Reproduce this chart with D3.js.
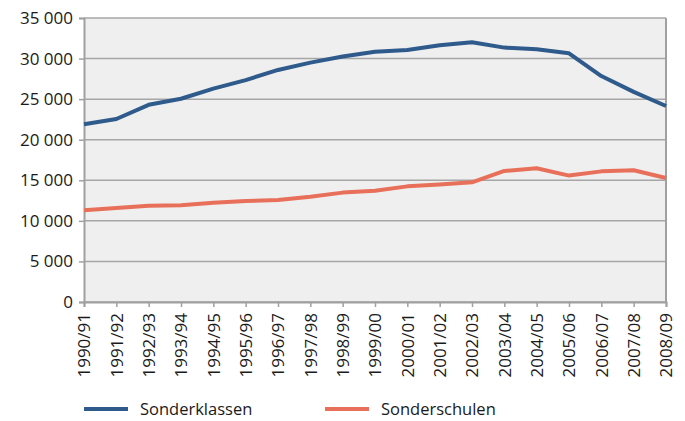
<!DOCTYPE html>
<html>
<head>
<meta charset="utf-8">
<script src="https://cdn.jsdelivr.net/npm/d3@7"></script>
<style>
  body { margin: 0; background: #fff; }
  text { font-family: "Open Sans", sans-serif; fill: #1a1a1a; }
</style>
</head>
<body>
<script>
// school years
var years = ["1990/91","1991/92","1992/93","1993/94","1994/95","1995/96","1996/97","1997/98","1998/99","1999/00",
             "2000/01","2001/02","2002/03","2003/04","2004/05","2005/06","2006/07","2007/08","2008/09"];
var sonderklassen = [21900,22550,24300,25050,26300,27350,28600,29500,30250,30850,
                     31050,31650,32000,31350,31150,30650,27850,25900,24150];
var sonderschulen = [11300,11580,11850,11920,12230,12450,12580,12980,13480,13700,
                     14250,14480,14750,16150,16480,15580,16100,16230,15280];
var yTicks = [0,5000,10000,15000,20000,25000,30000,35000];

var w = 685, h = 421;
var mLeft = 84, mRight = 666, mTop = 18, mBottom = 302;

var svg = d3.select("body").append("svg").attr("width", w).attr("height", h);

var x = d3.scalePoint().domain(years).range([mLeft, mRight]);
var y = d3.scaleLinear().domain([0, 35000]).range([mBottom, mTop]);

// plot background
svg.append("rect")
  .attr("x", mLeft).attr("y", mTop)
  .attr("width", mRight - mLeft).attr("height", mBottom - mTop)
  .attr("fill", "#efefef");

// gridlines
svg.append("g").selectAll("line")
  .data(yTicks)
  .enter().append("line")
  .attr("x1", mLeft).attr("x2", mRight)
  .attr("y1", function(d) { return y(d); })
  .attr("y2", function(d) { return y(d); })
  .attr("stroke", "#a6a6a6").attr("stroke-width", 1.5);

// right border
svg.append("line")
  .attr("x1", mRight).attr("x2", mRight).attr("y1", mTop).attr("y2", mBottom)
  .attr("stroke", "#a0a0a0").attr("stroke-width", 2);

var fmt = function(d) { return d3.format(",")(d).replace(",", " "); };

var yAxis = svg.append("g")
  .attr("transform", "translate(" + mLeft + ",0)")
  .call(d3.axisLeft(y).tickValues(yTicks).tickFormat(fmt).tickSize(5).tickPadding(6));

var xAxis = svg.append("g")
  .attr("transform", "translate(0," + mBottom + ")")
  .call(d3.axisBottom(x).tickSize(5).tickPadding(8));

svg.selectAll(".domain").attr("stroke", "#a0a0a0").attr("stroke-width", 2);
svg.selectAll(".tick line").attr("stroke", "#a0a0a0").attr("stroke-width", 1.5);
svg.selectAll(".tick text").style("font-size", "17px").attr("fill", "#1a1a1a");

xAxis.selectAll(".tick text")
  .attr("transform", "rotate(-90)")
  .attr("text-anchor", "end")
  .attr("x", -11)
  .attr("y", 0)
  .attr("dy", "0.35em");

var line = d3.line()
  .x(function(d, i) { return x(years[i]); })
  .y(function(d) { return y(d); });

var series = [
  { name: "Sonderklassen", values: sonderklassen, color: "#2f5a8c" },
  { name: "Sonderschulen", values: sonderschulen, color: "#e8705a" }
];

svg.selectAll("path.series")
  .data(series)
  .enter().append("path")
  .attr("class", "series")
  .attr("d", function(d) { return line(d.values); })
  .attr("fill", "none")
  .attr("stroke", function(d) { return d.color; })
  .attr("stroke-width", 4)
  .attr("stroke-linejoin", "round");

// legend
var legendX = [84, 325];
var lg = svg.selectAll("g.legend")
  .data(series)
  .enter().append("g")
  .attr("class", "legend")
  .attr("transform", function(d, i) { return "translate(" + legendX[i] + ",409)"; });

lg.append("line")
  .attr("x1", 0).attr("x2", 44)
  .attr("stroke", function(d) { return d.color; })
  .attr("stroke-width", 4);

lg.append("text")
  .attr("x", 56).attr("dy", "0.35em")
  .style("font-size", "16.5px")
  .text(function(d) { return d.name; });
</script>
</body>
</html>
